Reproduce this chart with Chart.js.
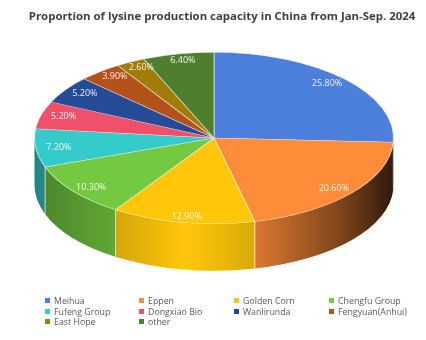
<!DOCTYPE html>
<html>
<head>
<meta charset="utf-8">
<script src="https://cdn.jsdelivr.net/npm/chart.js@4"></script>
<style>
  html, body { margin: 0; padding: 0; background: #fff; }
  #wrap { position: relative; width: 426px; height: 340px; }
  #title {
    position: absolute; left: 0; top: 8px; width: 444px; text-align: center;
    font: bold 11.4px 'Open Sans', sans-serif; color: #404040; white-space: nowrap;
  }
  #legend {
    position: absolute; left: 45px; top: 296px;
    display: grid; grid-template-columns: 94px 95px 95px 95px;
    font: 8.8px 'Open Sans', sans-serif; color: #595959; line-height: 10.5px;
  }
  #legend span.box { display: inline-block; width: 5px; height: 5px; margin-right: 4px; vertical-align: 1px; }
</style>
</head>
<body>
<div id="wrap">
  <canvas id="pieChart" width="426" height="340"></canvas>
  <div id="title"></div>
  <div id="legend"></div>
</div>
<script>
const chartTitle = 'Proportion of lysine production capacity in China from Jan-Sep. 2024';
const companies = ['Meihua', 'Eppen', 'Golden Corn', 'Chengfu Group', 'Fufeng Group',
    'Dongxiao Bio', 'Wanlirunda', 'Fengyuan(Anhui)', 'East Hope', 'other'];
const shares = [25.8, 20.6, 12.9, 10.3, 7.2, 5.2, 5.2, 3.9, 2.6, 6.4];
const sliceColors = ['#4b7fdb', '#ff8c38', '#ffc60a', '#73c940', '#35cbcb',
    '#f0506a', '#264b96', '#b3531b', '#9f7d06', '#4f7f2e'];

// fake 3D: draw the side band, then stretch the top face into an ellipse
const pie3d = {
    id: 'pie3d',
    beforeDatasetsDraw(chart, args, opts) {
        const ctx = chart.ctx;
        const arcs = chart.getDatasetMeta(0).data;
        const { x, y, outerRadius: r } = arcs[0];
        const rx = r * opts.stretch, ry = r, depth = opts.depth;

        const shade = ctx.createLinearGradient(x - rx, 0, x + rx, 0);
        shade.addColorStop(0, 'rgba(0,0,0,0.35)');
        shade.addColorStop(0.42, 'rgba(0,0,0,0)');
        shade.addColorStop(0.62, 'rgba(0,0,0,0.15)');
        shade.addColorStop(0.85, 'rgba(0,0,0,0.5)');
        shade.addColorStop(1, 'rgba(0,0,0,0.82)');

        arcs.forEach((arc, i) => {
            const a1 = Math.max(arc.startAngle, 0);
            const a2 = Math.min(arc.endAngle, Math.PI);
            if (a2 <= a1) return;
            ctx.save();
            ctx.beginPath();
            ctx.ellipse(x, y, rx, ry, 0, a1, a2);
            ctx.ellipse(x, y + depth, rx, ry, 0, a2, a1, true);
            ctx.closePath();
            ctx.fillStyle = sliceColors[i];
            ctx.fill();
            ctx.fillStyle = shade;
            ctx.fill();
            // light seam at slice edges
            ctx.strokeStyle = 'rgba(255,255,255,0.5)';
            ctx.lineWidth = 1;
            [arc.startAngle, arc.endAngle].forEach(a => {
                if (a > 0 && a < Math.PI) {
                    const px = x + Math.cos(a) * rx, py = y + Math.sin(a) * ry;
                    ctx.beginPath();
                    ctx.moveTo(px, py);
                    ctx.lineTo(px, py + depth);
                    ctx.stroke();
                }
            });
            ctx.restore();
        });

        ctx.save();
        ctx.translate(x, y);
        ctx.scale(opts.stretch, 1);
        ctx.translate(-x, -y);
    },
    afterDatasetsDraw(chart, args, opts) {
        const ctx = chart.ctx;
        ctx.restore();

        const arcs = chart.getDatasetMeta(0).data;
        ctx.save();
        ctx.font = '9px "Open Sans", sans-serif';
        ctx.fillStyle = 'rgba(255,255,255,0.9)';
        ctx.textAlign = 'center';
        ctx.textBaseline = 'middle';
        arcs.forEach((arc, i) => {
            const mid = (arc.startAngle + arc.endAngle) / 2;
            const lx = arc.x + Math.cos(mid) * arc.outerRadius * opts.stretch * 0.87;
            const ly = arc.y + Math.sin(mid) * arc.outerRadius * 0.925;
            ctx.fillText(shares[i].toFixed(2) + '%', lx, ly);
        });
        ctx.restore();
    }
};

function buildLegend() {
    document.getElementById('title').textContent = chartTitle;
    const legend = document.getElementById('legend');
    legend.innerHTML = companies.map((name, i) =>
        `<div><span class="box" style="background:${sliceColors[i]}"></span>${name}</div>`
    ).join('');
}

document.addEventListener('DOMContentLoaded', () => {
    buildLegend();

    new Chart(document.getElementById('pieChart'), {
        type: 'pie',
        data: {
            labels: companies,
            datasets: [{
                data: shares,
                backgroundColor: sliceColors,
                borderColor: 'rgba(255,255,255,0.55)',
                borderWidth: 0.5,
                hoverOffset: 0,
                offset: 0,
                clip: false
            }]
        },
        options: {
            responsive: false,
            animation: false,
            events: [],
            layout: { padding: { left: 34, right: 32, top: 52, bottom: 116 } },
            plugins: {
                title: { display: false },
                legend: { display: false },
                tooltip: { enabled: false },
                pie3d: { stretch: 180 / 86, depth: 47 }
            }
        },
        plugins: [pie3d]
    });
});
</script>
</body>
</html>
